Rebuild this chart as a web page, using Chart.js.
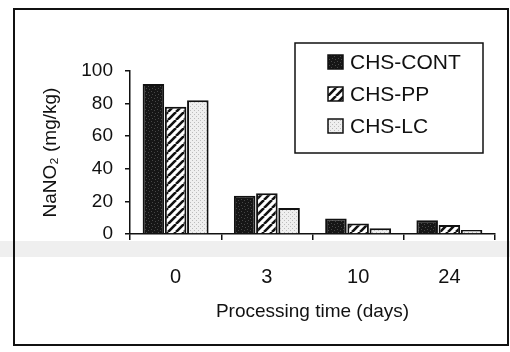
<!DOCTYPE html>
<html>
<head>
<meta charset="utf-8">
<script src="https://cdn.jsdelivr.net/npm/chart.js@4.4.0/dist/chart.umd.min.js"></script>
<style>
body { margin: 0; background: #fff; }
canvas { display: block; }
</style>
</head>
<body>
<canvas id="nitriteChart" width="510" height="352"></canvas>
<script>
'use strict';

// data
const days = ['0', '3', '10', '24'];
const seriesNames = ['CHS-CONT', 'CHS-PP', 'CHS-LC'];
const contValues = [92, 23.5, 9.5, 8.5];
const ppValues = [78, 25, 6.5, 5.5];
const lcValues = [82, 16, 3.5, 2.5];
const yTicks = [0, 20, 40, 60, 80, 100];

const FONT = '"Liberation Sans", Arial, sans-serif';
const INK = '#111';

const canvas = document.getElementById('nitriteChart');
const ctx = canvas.getContext('2d');

function makePattern(size, paint) {
	const c = document.createElement('canvas');
	c.width = size;
	c.height = size;
	paint(c.getContext('2d'), size);
	return ctx.createPattern(c, 'repeat');
}

// grainy black
const darkFill = makePattern(6, (g, s) => {
	g.fillStyle = '#161616';
	g.fillRect(0, 0, s, s);
	g.fillStyle = '#474747';
	g.fillRect(1, 1, 1, 1);
	g.fillRect(4, 2, 1, 1);
	g.fillRect(2, 4, 1, 1);
	g.fillRect(5, 5, 1, 1);
});
// diagonal hatch
const hatchFill = makePattern(8, (g, s) => {
	g.fillStyle = '#fff';
	g.fillRect(0, 0, s, s);
	g.strokeStyle = INK;
	g.lineWidth = 2.6;
	g.beginPath();
	for (let k = -1; k <= 1; k++) {
		g.moveTo(k * s, s);
		g.lineTo(k * s + s, 0);
	}
	g.stroke();
});
// light stipple
const dotFill = makePattern(4, (g, s) => {
	g.fillStyle = '#efefef';
	g.fillRect(0, 0, s, s);
	g.fillStyle = '#bcbcbc';
	g.fillRect(0, 0, 1, 1);
	g.fillRect(2, 2, 1, 1);
});

// page frame + the grey scanner band under the axis
const framePlugin = {
	id: 'framePlugin',
	beforeDraw(chart) {
		const c = chart.ctx;
		c.save();
		c.fillStyle = '#fff';
		c.fillRect(0, 0, chart.width, chart.height);
		c.fillStyle = '#efefef';
		c.fillRect(0, 241, chart.width, 16);
		c.restore();
	},
	afterDraw(chart) {
		const c = chart.ctx;
		c.save();
		c.strokeStyle = INK;
		c.lineWidth = 2;
		c.strokeRect(14, 9, 494, 336);
		c.restore();
	}
};

// boxed legend inside the plot
const boxLegend = {
	id: 'boxLegend',
	afterDraw(chart) {
		const c = chart.ctx;
		c.save();
		c.strokeStyle = INK;
		c.lineWidth = 1.5;
		c.strokeRect(295, 43, 188, 110);
		c.font = '21px ' + FONT;
		c.textBaseline = 'middle';
		chart.data.datasets.forEach((ds, i) => {
			const y = 62 + i * 32;
			c.fillStyle = ds.backgroundColor;
			c.fillRect(328, y - 7, 15, 14);
			c.lineWidth = 1.5;
			c.strokeRect(328, y - 7, 15, 14);
			c.fillStyle = INK;
			c.fillText(ds.label, 350, y + 1);
		});
		c.restore();
	}
};

const config = {
	type: 'bar',
	data: {
		labels: days,
		datasets: [
			{ label: seriesNames[0], data: contValues, backgroundColor: darkFill },
			{ label: seriesNames[1], data: ppValues, backgroundColor: hatchFill },
			{ label: seriesNames[2], data: lcValues, backgroundColor: dotFill }
		].map(ds => Object.assign(ds, {
			borderColor: INK,
			borderWidth: 2,
			categoryPercentage: 0.73,
			barPercentage: 0.97
		}))
	},
	options: {
		responsive: false,
		animation: false,
		layout: { padding: { top: 71, right: 15, left: 20, bottom: 10 } },
		plugins: {
			legend: { display: false },
			tooltip: { enabled: false }
		},
		scales: {
			x: {
				grid: { drawOnChartArea: false, offset: true, tickLength: 6, color: INK, lineWidth: 1.5 },
				border: { color: INK, width: 1.5 },
				ticks: { color: INK, padding: 25, font: { family: FONT, size: 20 } },
				title: {
					display: true,
					text: 'Processing time (days)',
					color: INK,
					padding: { top: 0, bottom: 19 },
					font: { family: FONT, size: 19 }
				},
				afterFit: (scale) => { scale.height = 352 - 234 - 10; }
			},
			y: {
				min: 0,
				max: 100,
				afterBuildTicks: (scale) => { scale.ticks = yTicks.map(v => ({ value: v })); },
				grid: { drawOnChartArea: false, tickLength: 5, color: INK, lineWidth: 1.5 },
				border: { color: INK, width: 1.5 },
				ticks: { color: INK, padding: 12, font: { family: FONT, size: 19 } },
				title: {
					display: true,
					text: 'NaNO\u2082 (mg/kg)',
					color: INK,
					padding: { top: 19, bottom: 0 },
					font: { family: FONT, size: 19 }
				},
				afterFit: (scale) => { scale.width = 130 - 20; }
			}
		}
	},
	plugins: [framePlugin, boxLegend]
};

window.addEventListener('load', function() {
	const nitriteChart = new Chart(ctx, config);
}, false);
</script>
</body>
</html>
